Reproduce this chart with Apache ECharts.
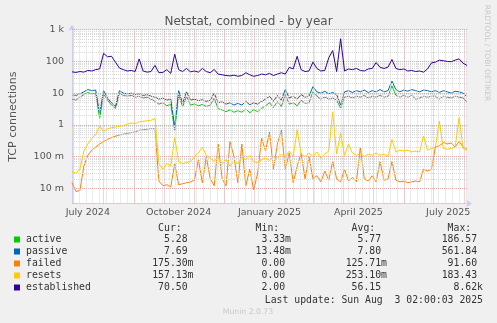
<!DOCTYPE html>
<html><head><meta charset="utf-8">
<script src="https://cdn.jsdelivr.net/npm/echarts@6/dist/echarts.min.js"></script>
<style>html,body{margin:0;padding:0;background:#f0f0f0}#c{width:497px;height:323px}</style>
</head><body><div id="c"></div>
<script>
// ---- data (sampled every 4 days starting 2024-06-30) ----
const startDate = '2024-06-30';
const stepDays = 4;
const active = [6.5,6,7.5,9,10.5,9.5,10,1.6,9.5,6,4.2,3.3,10,8.5,8,8.5,7.5,8,7,7.5,6.5,5.5,4.5,5,4,4.5,0.66,9,3.7,8,4.2,4.6,4,4.4,3.8,4.2,7,3.2,3,2.6,3,2.5,2.8,2.5,3.2,2.4,3,2.6,3.3,4,5,3.5,5.5,3.8,9,4.5,5,4,6,4.8,5,11,8,6.5,7.5,6.5,7,6,3.4,7.5,8,7,8,7.5,8.5,7,8,7.5,8.5,7.5,8,17,8.5,7.5,8.5,7.5,8.5,6.5,7,8,7.5,8,8,6.5,8,7.5,7,8,7.5,7,5.3];
const passive = [9,8.5,9.5,11,13,12,12.5,2.3,12,7,4.9,3.8,12,10,9.5,10,9,9.5,8.5,9,8,7.5,6.5,7,6,6.5,0.87,12,4.8,11,6,6.5,5.8,6.2,5.5,6,10,5,5.3,4.5,5,4.2,4.8,4.2,5.5,4.3,5,4.5,5.5,6.5,8,5.5,8.5,6,13,7,8,6.5,9,7.5,8,16,11,10,11.5,9.5,10.5,9,4.2,11,12,10.5,12,11,12.5,10.5,12,11,13,11,12,24,13,11,12.5,11.5,13,12,11,12.5,12,11,12,10.5,12,11,10,11.5,11,10,7.7];
const failed = [0.015,0.008,0.0085,0.05,0.11,0.16,0.2,0.25,0.3,0.35,0.4,0.44,0.48,0.51,0.54,0.57,0.6,0.68,0.7,0.73,0.76,0.77,0.017,0.012,0.013,0.011,0.06,0.013,0.014,0.015,0.016,0.018,0.08,0.015,0.1,0.02,0.012,0.25,0.02,0.012,0.3,0.1,0.015,0.25,0.012,0.04,0.009,0.03,0.38,0.15,0.6,0.04,0.25,0.7,0.04,0.13,0.015,0.05,0.13,0.02,0.1,0.02,0.025,0.016,0.035,0.018,0.07,0.02,0.016,0.04,0.017,0.022,0.016,0.2,0.02,0.017,0.025,0.016,0.07,0.018,0.02,0.07,0.018,0.016,0.017,0.015,0.016,0.017,0.016,0.04,0.035,0.04,0.2,0.22,0.28,0.25,0.27,0.2,0.3,0.2,0.175];
const resets = [0.032,0.03,0.04,0.15,0.25,0.38,0.5,0.9,0.62,0.75,0.82,0.85,0.9,0.95,1.05,1.15,1.1,1.25,1.3,1.35,1.4,1.6,0.06,0.04,0.06,0.05,0.4,0.07,0.06,0.065,0.07,0.1,0.13,0.2,0.11,0.09,0.07,0.1,0.06,0.08,0.05,0.07,0.06,0.09,0.08,0.11,0.07,0.065,0.08,0.09,0.075,0.1,0.09,0.12,0.1,0.15,0.1,0.7,0.12,0.1,0.13,0.1,0.14,0.09,0.12,0.15,2.6,0.12,0.55,0.11,0.25,0.13,0.11,0.12,0.1,0.12,0.11,0.13,0.11,0.12,0.1,0.35,0.14,0.16,0.15,0.16,0.14,0.15,0.14,0.45,0.16,0.18,0.2,1.3,0.18,0.17,0.18,0.2,1.7,0.18,0.157];
const established = [47,45,48,46,52,50,55,58,180,140,145,95,62,55,50,52,48,120,50,46,48,75,44,45,55,42,170,55,48,60,47,50,46,60,48,44,56,40,38,36,35,37,34,36,44,38,34,36,40,38,42,36,40,44,40,65,58,145,55,48,50,95,60,50,52,130,220,48,520,50,58,55,60,52,50,58,60,92,65,60,66,115,60,55,58,50,52,48,50,46,58,90,95,110,105,100,98,110,120,88,75];

const seriesNames = ['active','passive','failed','resets','established'];
const seriesColors = ['#00cc00','#0066b3','#ff8000','#ffcc00','#330099'];
const seriesValues = [active, passive, failed, resets, established];

const curVals = ['5.28','7.69','175.30m','157.13m','70.50'];
const minVals = ['3.33m','13.48m','0.00','0.00','2.00'];
const avgVals = ['5.77','7.80','125.71m','253.10m','56.15'];
const maxVals = ['186.57','561.84','91.60','183.43','8.62k'];

const yTickValues = [0.01, 0.1, 1, 10, 100, 1000];
const yTickLabels = ['10 m', '100 m', '1', '10', '100', '1 k'];
const xLabelDates = ['2024-07-16','2024-10-16','2025-01-16','2025-04-16','2025-07-16'];
const xLabelTexts = ['July 2024','October 2024','January 2025','April 2025','July 2025'];
const monthStarts = ['2024-07-01','2024-08-01','2024-09-01','2024-10-01','2024-11-01','2024-12-01','2025-01-01','2025-02-01','2025-03-01','2025-04-01','2025-05-01','2025-06-01','2025-07-01','2025-08-01'];

// ---- build ----
const DAY = 86400000;
const t0 = Date.parse(startDate + 'T00:00:00Z');
const tMax = t0 + 400 * DAY;
const ts = d => Date.parse(d + 'T00:00:00Z');
const xLabelTs = xLabelDates.map(ts);

const gridLines = [];
for (let t = t0 + 7 * DAY; t < tMax; t += 7 * DAY) {
  gridLines.push({xAxis: t, lineStyle: {color: '#d8d8d8', type: [1, 1], width: 1}});
}
for (let k = -3; k <= 2; k++) {
  for (let m = 2; m <= 9; m++) {
    const v = m * Math.pow(10, k);
    if (v > 0.00333 && v < 1000) gridLines.push({yAxis: v, lineStyle: {color: '#d8d8d8', type: [1, 1], width: 1}});
  }
}
monthStarts.forEach(d => gridLines.push({xAxis: ts(d), lineStyle: {color: '#e8a8a8', type: [1, 1], width: 1}}));
yTickValues.forEach(v => gridLines.push({yAxis: v, lineStyle: {color: '#e8a8a8', type: [1, 1], width: 1}}));

const series = [{
  type: 'line', data: [], z: 1, silent: true,
  markLine: {silent: true, symbol: ['none', 'none'], label: {show: false}, animation: false, data: gridLines}
}];
seriesValues.forEach((vals, i) => {
  series.push({
    name: seriesNames[i], type: 'line', z: 2 + i, showSymbol: false, symbol: 'none',
    lineStyle: {width: 1, color: seriesColors[i]}, itemStyle: {color: seriesColors[i]},
    data: vals.map((v, j) => [t0 + j * stepDays * DAY, v]), animation: false
  });
});

const mono = 'DejaVu Sans Mono';
const cw = 5.9, fs = 9.8;
const graphic = [];
const colR = [193.5, 291, 387, 483];
const headers = ['Cur:', 'Min:', 'Avg:', 'Max:'];
headers.forEach((h, i) => graphic.push({type: 'text', x: colR[i] - 2 * cw, y: 228, style: {text: h, font: fs + 'px ' + mono, fill: '#333', align: 'right', verticalAlign: 'middle'}}));
const cols = [curVals, minVals, avgVals, maxVals];
seriesNames.forEach((n, r) => {
  const y = 239.5 + 12 * r;
  graphic.push({type: 'rect', shape: {x: 14, y: y - 3, width: 6, height: 6}, style: {fill: seriesColors[r]}});
  graphic.push({type: 'text', x: 26, y: y, style: {text: n, font: fs + 'px ' + mono, fill: '#333', verticalAlign: 'middle'}});
  cols.forEach((c, ci) => {
    const s = c[r];
    const hasUnit = /[a-z]$/i.test(s);
    graphic.push({type: 'text', x: colR[ci] - (hasUnit ? 0 : cw), y: y, style: {text: s, font: fs + 'px ' + mono, fill: '#333', align: 'right', verticalAlign: 'middle'}});
  });
});
graphic.push({type: 'text', x: 483, y: 300, style: {text: 'Last update: Sun Aug  3 02:00:03 2025', font: fs + 'px ' + mono, fill: '#333', align: 'right', verticalAlign: 'middle'}});
graphic.push({type: 'text', x: 248, y: 312, style: {text: 'Munin 2.0.73', font: '7.7px "DejaVu Sans"', fill: '#c8c8c8', align: 'center', verticalAlign: 'middle'}});
graphic.push({type: 'text', x: 487, y: 53, rotation: -Math.PI / 2, style: {text: 'RRDTOOL / TOBI OETIKER', font: '7.5px "DejaVu Sans"', fill: '#c8c8c8', align: 'center', verticalAlign: 'middle'}});

const chart = echarts.init(document.getElementById('c'), null, {renderer: 'canvas'});
chart.setOption({
  animation: false,
  backgroundColor: '#f0f0f0',
  title: {text: 'Netstat, combined - by year', left: 'center', top: 11, textStyle: {fontFamily: 'DejaVu Sans', fontSize: 12, fontWeight: 'normal', color: '#555'}},
  grid: {left: 67, top: 29.7, width: 400, height: 173.8, show: true, backgroundColor: '#ffffff', borderWidth: 0, containLabel: false},
  xAxis: {
    type: 'value', min: t0, max: tMax, scale: true,
    axisLine: {show: true, lineStyle: {color: '#c8cff0'}, symbol: ['none', 'arrow'], symbolSize: [6, 6], symbolOffset: [0, 5]},
    axisTick: {show: false}, splitLine: {show: false},
    axisLabel: {
      customValues: xLabelTs, margin: 4, fontFamily: 'DejaVu Sans', fontSize: 9.5, color: '#555', hideOverlap: false,
      alignMinLabel: 'center', alignMaxLabel: 'center',
      formatter: v => { let best = 0; xLabelTs.forEach((t, i) => { if (Math.abs(t - v) < Math.abs(xLabelTs[best] - v)) best = i; }); return xLabelTexts[best]; }
    }
  },
  yAxis: {
    type: 'log', logBase: 10, min: 0.00333, max: 1000,
    name: 'TCP connections', nameLocation: 'middle', nameGap: 53, nameRotate: 90,
    nameTextStyle: {fontFamily: 'DejaVu Sans', fontSize: 11, color: '#555'},
    axisLine: {show: true, lineStyle: {color: '#c8cff0'}, symbol: ['none', 'arrow'], symbolSize: [6, 6], symbolOffset: [0, 5]},
    axisTick: {show: false}, splitLine: {show: false},
    axisLabel: {
      customValues: yTickValues, margin: 8, fontFamily: 'DejaVu Sans', fontSize: 9.5, color: '#555',
      formatter: v => { let best = 0; yTickValues.forEach((t, i) => { if (Math.abs(Math.log10(t) - Math.log10(v)) < Math.abs(Math.log10(yTickValues[best]) - Math.log10(v))) best = i; }); return yTickLabels[best]; }
    }
  },
  series: series,
  graphic: graphic
});
</script></body></html>
